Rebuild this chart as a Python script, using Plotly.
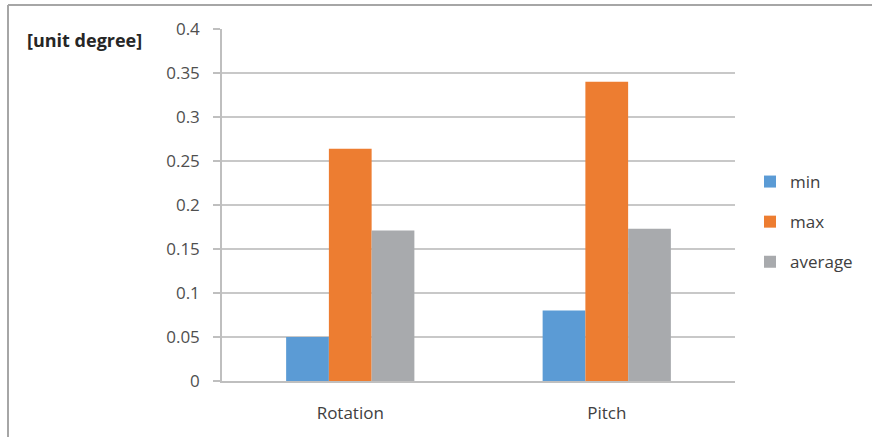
import plotly.graph_objects as go

# Angular error per axis, in degrees
categories = ["Rotation", "Pitch"]
series_names = ["min", "max", "average"]
min_vals = [0.05, 0.08]
max_vals = [0.264, 0.34]
avg_vals = [0.171, 0.173]
y_ticks = [0, 0.05, 0.1, 0.15, 0.2, 0.25, 0.3, 0.35, 0.4]
y_tick_text = ["0", "0.05", "0.1", "0.15", "0.2", "0.25", "0.3", "0.35", "0.4"]

colors = ["#5B9BD5", "#ED7D31", "#A8AAAD"]
values = [min_vals, max_vals, avg_vals]

W, H = 872, 437
L, R, T, B = 222, 137, 29, 56
pw = W - L - R
ph = H - T - B

fig = go.Figure()
for i, (name, vals) in enumerate(zip(series_names, values)):
    fig.add_trace(go.Bar(
        x=categories, y=vals, name=name,
        marker=dict(color=colors[i], line=dict(width=0)),
        legendgroup=name,
    ))

font = "Open Sans, DejaVu Sans, sans-serif"
fig.update_layout(
    width=W, height=H,
    margin=dict(l=L, r=R, t=T, b=B, pad=0),
    paper_bgcolor="white", plot_bgcolor="white",
    barmode="group", bargap=0.5, bargroupgap=0,
    font=dict(family=font, size=17, color="#595959"),
    xaxis=dict(
        showgrid=False, showline=True, linecolor="#BFBFBF", linewidth=1.5,
        ticks="", tickfont=dict(size=17, color="#404040"),
        ticklabelstandoff=16,
        fixedrange=True,
    ),
    yaxis=dict(
        range=[0, 0.4], tickvals=y_ticks, ticktext=y_tick_text,
        showgrid=True, gridcolor="#C8C8C8", gridwidth=1.5,
        showline=True, linecolor="#BFBFBF", linewidth=1.5,
        ticks="outside", ticklen=7, tickcolor="#BFBFBF", tickwidth=1.5,
        ticklabelstandoff=10,
        tickfont=dict(size=17, color="#4F4F4F"),
        zeroline=False,
    ),
    showlegend=True,
    legend=dict(
        x=(750 - L) / pw, y=(H - B - 222) / ph, xanchor="left", yanchor="middle",
        traceorder="grouped", tracegroupgap=15, itemwidth=30,
        font=dict(size=17, color="#404040"),
        bgcolor="rgba(0,0,0,0)",
    ),
    annotations=[dict(
        text="<b>[unit degree]</b>", xref="paper", yref="paper",
        x=(25 - L) / pw, y=(H - B - 40) / ph, xanchor="left", yanchor="middle",
        showarrow=False, font=dict(size=18, color="#262626"),
    )],
    shapes=[
        dict(type="line", xref="paper", yref="paper",
             x0=(8 - L) / pw, x1=(W - L) / pw, y0=(H - B - 5) / ph, y1=(H - B - 5) / ph,
             line=dict(color="#A6A6A6", width=2)),
        dict(type="line", xref="paper", yref="paper",
             x0=(8 - L) / pw, x1=(8 - L) / pw, y0=(H - B - 5) / ph, y1=-B / ph,
             line=dict(color="#A6A6A6", width=2)),
    ],
)

fig.write_html("out.html")
